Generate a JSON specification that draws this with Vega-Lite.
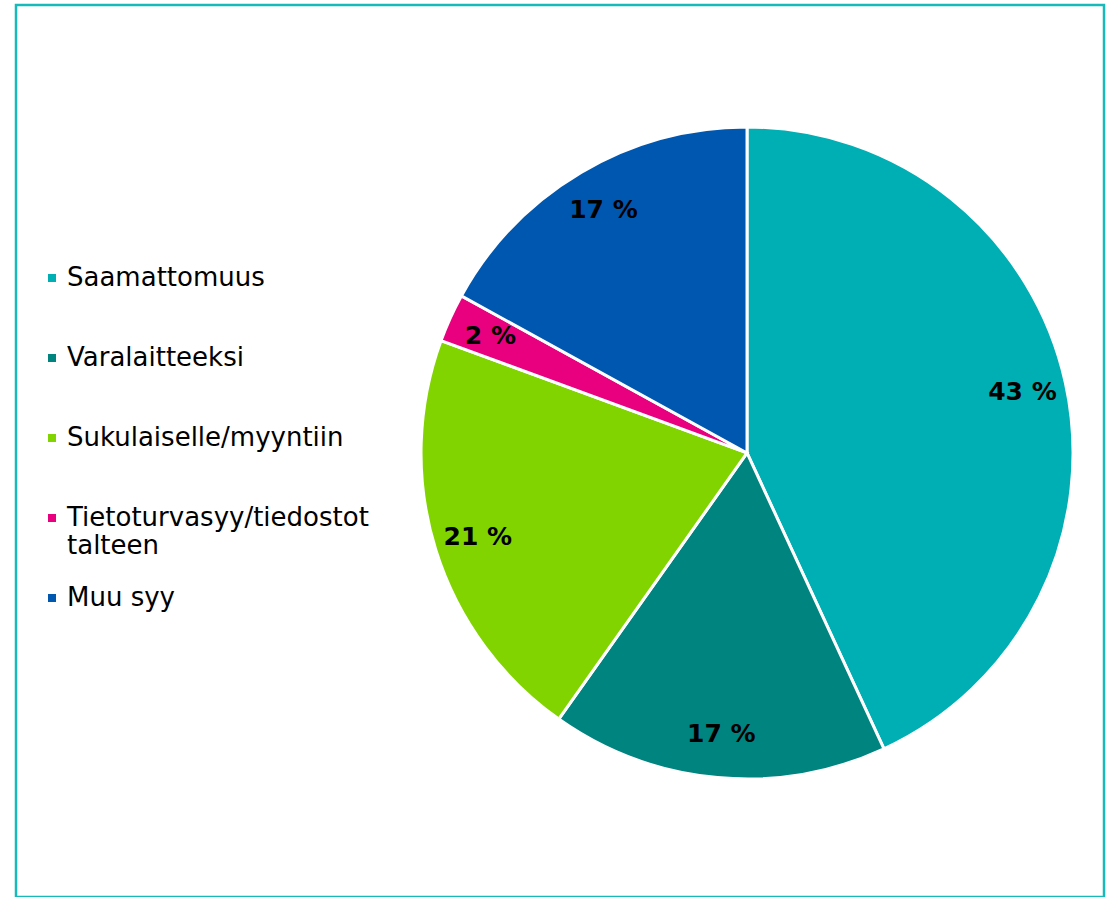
{
  "$schema": "https://vega.github.io/schema/vega-lite/v6.json",
  "width": 1088,
  "height": 892,
  "autosize": {"type": "none"},
  "padding": {"left": 16, "top": 5, "right": 2, "bottom": 0},
  "background": "white",
  "config": {"view": {"stroke": "#16BABA", "strokeWidth": 2.5}, "font": "DejaVu Sans"},
  "data": {
    "values": [
      {"reason": "Saamattomuus", "share": 43.1, "label": "43 %", "ord": 1},
      {"reason": "Varalaitteeksi", "share": 16.7, "label": "17 %", "ord": 2},
      {"reason": "Sukulaiselle/myyntiin", "share": 20.8, "label": "21 %", "ord": 3},
      {"reason": "Tietoturvasyy/tiedostot talteen", "share": 2.4, "label": "2 %", "ord": 4},
      {"reason": "Muu syy", "share": 17.0, "label": "17 %", "ord": 5}
    ]
  },
  "encoding": {
    "theta": {"field": "share", "type": "quantitative", "stack": true},
    "order": {"field": "ord", "type": "quantitative"},
    "x": {"datum": 0.6719, "type": "quantitative", "scale": {"domain": [0, 1], "nice": false}, "axis": null},
    "y": {"datum": 0.5022, "type": "quantitative", "scale": {"domain": [0, 1], "nice": false, "reverse": true}, "axis": null}
  },
  "layer": [
    {
      "mark": {"type": "arc", "radius": 326, "stroke": "white", "strokeWidth": 3},
      "encoding": {
        "color": {
          "field": "reason",
          "type": "nominal",
          "sort": ["Saamattomuus", "Varalaitteeksi", "Sukulaiselle/myyntiin", "Tietoturvasyy/tiedostot talteen", "Muu syy"],
          "scale": {
            "domain": ["Saamattomuus", "Varalaitteeksi", "Sukulaiselle/myyntiin", "Tietoturvasyy/tiedostot talteen", "Muu syy"],
            "range": ["#00AFB4", "#008480", "#82D400", "#E8007F", "#0057B0"]
          },
          "legend": {
            "orient": "none",
            "legendX": 23,
            "legendY": 260,
            "title": null,
            "padding": 0,
            "symbolType": "square",
            "symbolSize": 64,
            "symbolStrokeWidth": 0,
            "labelFont": "DejaVu Sans",
            "labelFontSize": 26,
            "labelColor": "black",
            "labelOffset": 2,
            "labelLimit": 600,
            "rowPadding": 26,
            "labelBaseline": "middle",
            "labelExpr": "datum.label == 'Tietoturvasyy/tiedostot talteen' ? ['Tietoturvasyy/tiedostot', 'talteen'] : [datum.label, ' ']"
          }
        }
      }
    },
    {
      "mark": {"type": "text", "radius": 282, "fontSize": 25, "fontWeight": "bold", "color": "black", "font": "DejaVu Sans"},
      "encoding": {"text": {"field": "label", "type": "nominal"}}
    }
  ]
}
